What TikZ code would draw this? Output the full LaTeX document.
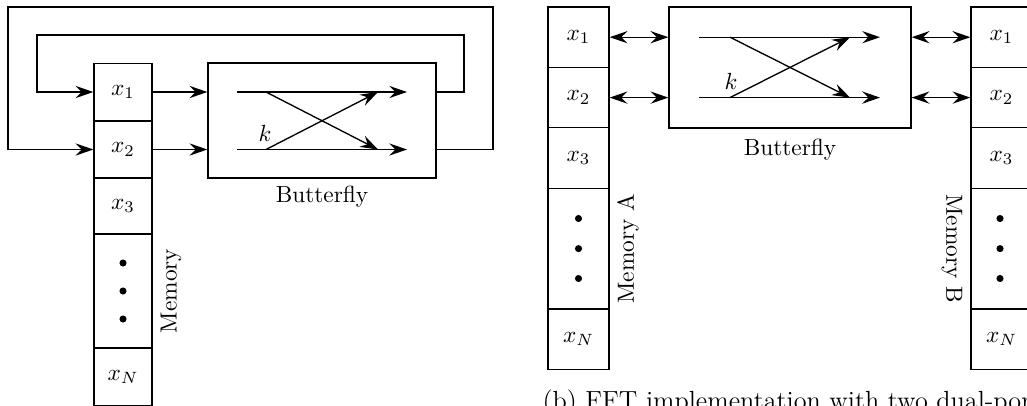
\RequirePackage{fix-cm}
\documentclass[tikz,border=0pt]{standalone}
\usetikzlibrary{arrows.meta,calc}
\begin{document}
\begin{tikzpicture}[x=0.45pt,y=-0.45pt,line width=0.6pt,
  font=\fontsize{10.5}{13}\selectfont,
  >={Stealth[length=8pt,width=5.5pt,inset=2.8pt]},
  cellL/.style={draw,minimum width=26.1pt,minimum height=25.65pt,inner sep=0pt},
  cellR/.style={draw,minimum width=27.45pt,minimum height=27.18pt,inner sep=0pt},
  bfbox/.style={draw,inner sep=0pt},
  lbl/.style={inner sep=0pt},
  dot/.style={radius=1.6pt}]
\useasboundingbox (0,0) rectangle (1027,405);
\clip (0,0) rectangle (1027,405);

% ---------------- left panel ----------------
\node[cellL] (m1) at (123,92) {$x_1$};
\node[cellL] (m2) at (123,149.5) {$x_2$};
\node[cellL] (m3) at (123,206) {$x_3$};
\node[cellL,minimum height=51.3pt] (md) at (123,291) {};
\node[cellL] (mN) at (123,377) {$x_N$};
\fill (123,263) circle[dot] (123,291) circle[dot] (123,319) circle[dot];
\node[lbl,rotate=90] (meml) at (171,291) {Memory};

\node[bfbox,minimum width=102.6pt,minimum height=51.75pt] (bf) at (322,120.5) {};
\node[lbl] (bfl) at (322,197) {Butterfly};
\draw[->] (237,92) -- (407,92);
\draw[->] (237,149.5) -- (407,149.5);
\draw[->] (266,92) -- (378,149.5);
\draw[->] (266,149.5) -- (378,92);
\node[lbl] (k1) at (265,133) {$k$};

\draw[->] (m1.east) -- (bf.west |- m1.east);
\draw[->] (m2.east) -- (bf.west |- m2.east);
\coordinate (i1) at (464,35); \coordinate (i2) at (37,35);
\coordinate (o1) at (493,7);  \coordinate (o2) at (8,7);
\draw[->] (bf.east |- m1.east) -| (i1) -- (i2) |- (m1.west);
\draw[->] (bf.east |- m2.east) -| (o1) -- (o2) |- (m2.west);

% ---------------- right panel ----------------
\node[cellR] (a1) at (578.5,37.2) {$x_1$};
\node[cellR] (a2) at (578.5,97.6) {$x_2$};
\node[cellR] (a3) at (578.5,158) {$x_3$};
\node[cellR,minimum height=54.36pt] (ad) at (578.5,248.6) {};
\node[cellR] (aN) at (578.5,339) {$x_N$};
\fill (578.5,218.5) circle[dot] (578.5,248.6) circle[dot] (578.5,278.5) circle[dot];
\node[lbl,rotate=90] (memA) at (628,248.6) {Memory A};

\node[cellR] (b1) at (1001.5,37.2) {$x_1$};
\node[cellR] (b2) at (1001.5,97.6) {$x_2$};
\node[cellR] (b3) at (1001.5,158) {$x_3$};
\node[cellR,minimum height=54.36pt] (bd) at (1001.5,248.6) {};
\node[cellR] (bN) at (1001.5,339) {$x_N$};
\fill (1000,218.5) circle[dot] (1000,248.6) circle[dot] (1000,278.5) circle[dot];
\node[lbl,rotate=-90] (memB) at (952,248.6) {Memory B};

\node[bfbox,minimum width=108.9pt,minimum height=54.45pt] (bfb) at (790,67.5) {};
\node[lbl] (bfbl) at (790,150) {Butterfly};
\draw[->] (699,37.2) -- (880,37.2);
\draw[->] (699,97.6) -- (880,97.6);
\draw[->] (730,37.2) -- (850,97.6);
\draw[->] (730,97.6) -- (850,37.2);
\node[lbl] (k2) at (731,81.7) {$k$};

\draw[<->] (a1.east) -- (bfb.west |- a1.east);
\draw[<->] (a2.east) -- (bfb.west |- a2.east);
\draw[<->] (bfb.east |- b1.west) -- (b1.west);
\draw[<->] (bfb.east |- b2.west) -- (b2.west);

\node[anchor=base west,inner sep=0pt,font=\fontsize{11.8}{14}\selectfont] (cap) at (542,409) {(b) FFT implementation with two dual-port};
\end{tikzpicture}
\end{document}
